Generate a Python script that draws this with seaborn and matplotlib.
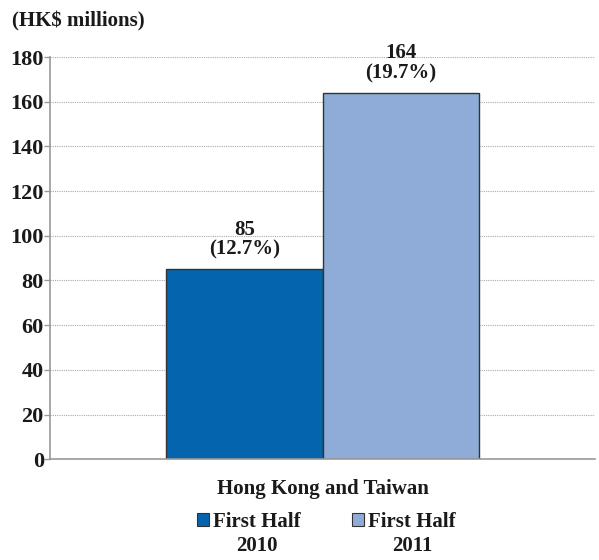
import matplotlib
matplotlib.use("Agg")
import matplotlib.pyplot as plt
import seaborn as sns
import pandas as pd
from matplotlib.patches import Patch

# Data
regions = ["Hong Kong and Taiwan"]
periods = ["First Half\n2010", "First Half\n2011"]
values = [85, 164]
shares = ["12.7%", "19.7%"]
colors = ["#0465AE", "#8FACD9"]
yticks = [0, 20, 40, 60, 80, 100, 120, 140, 160, 180]

df = pd.DataFrame({
    "region": [regions[0]] * len(periods),
    "period": periods,
    "value": values,
})

sns.set_theme(style="white")
plt.rcParams["font.family"] = ["Liberation Serif", "DejaVu Serif"]
plt.rcParams["font.weight"] = "bold"
TXT = "#1a1a1a"

fig = plt.figure(figsize=(5.99, 5.60), dpi=100)
ax = fig.add_axes([0.0835, 0.180, 0.91, 0.718])

sns.barplot(data=df, x="region", y="value", hue="period", palette=colors,
            hue_order=periods, width=0.8, edgecolor="#333333", linewidth=1.0,
            ax=ax, legend=False, saturation=1)

ax.set_xlim(-0.697, 0.697)
ax.set_ylim(0, 180)
ax.set_yticks(yticks)
ax.set_yticklabels([str(t) for t in yticks], fontsize=16, fontweight="bold",
                   color=TXT)
ax.tick_params(axis="y", length=4, width=1, color="#999999", pad=0.5, left=True)
ax.tick_params(axis="x", length=0, pad=14)
for lbl in ax.get_xticklabels():
    lbl.set_fontsize(15)
    lbl.set_fontweight("bold")
    lbl.set_color(TXT)

ax.set_xlabel("")
ax.set_ylabel("")
ax.yaxis.grid(True, linestyle=(0, (1, 1)), color="#aaaaaa", linewidth=0.8)
ax.set_axisbelow(True)
for side in ["top", "right"]:
    ax.spines[side].set_visible(False)
for side in ["left", "bottom"]:
    ax.spines[side].set_color("#999999")
    ax.spines[side].set_linewidth(1.2)

# Value labels above each bar
for container, v, s in zip(ax.containers, values, shares):
    ax.bar_label(container, labels=[f"{v}\n({s})"], padding=7, fontsize=15,
                 fontweight="bold", color=TXT, linespacing=1.0,
                 multialignment="center")

fig.text(0.02, 0.962, "(HK$ millions)", fontsize=15, fontweight="bold",
         color=TXT, ha="left", va="center")

# Legend: swatch beside the first line, the year centred beneath it
first_lines = [p.split("\n")[0] for p in periods]
second_lines = [p.split("\n")[1] for p in periods]
handles = [Patch(facecolor=c, edgecolor="#333333", linewidth=0.8) for c in colors]
leg = fig.legend(handles, first_lines, loc="center",
                 bbox_to_anchor=(0.545, 1 - 522 / 560),
                 bbox_transform=fig.transFigure,
                 ncol=2, frameon=False, fontsize=15, handlelength=0.55,
                 handleheight=0.55, handletextpad=0.2, columnspacing=2.5,
                 borderpad=0, borderaxespad=0)
for t in leg.get_texts():
    t.set_fontweight("bold")
    t.set_color(TXT)

fig.canvas.draw()
renderer = fig.canvas.get_renderer()
for t, year in zip(leg.get_texts(), second_lines):
    bb = t.get_window_extent(renderer)
    xc = (bb.x0 + bb.x1) / 2 / fig.bbox.width
    fig.text(xc, 1 - 546 / 560, year, fontsize=15, fontweight="bold",
             color=TXT, ha="center", va="center")

fig.savefig("out.png", dpi=100, facecolor="white")
